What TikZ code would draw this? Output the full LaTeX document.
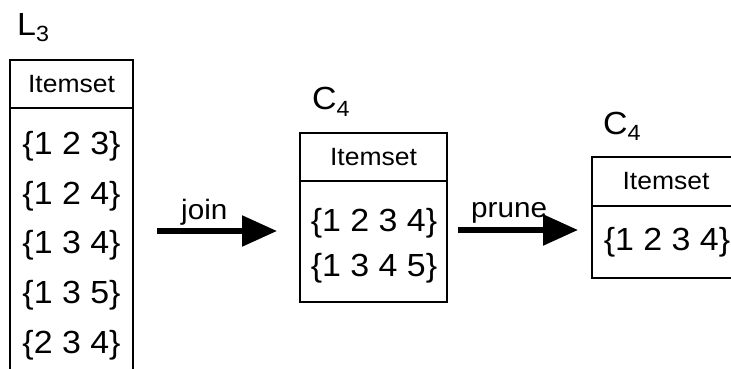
\documentclass[tikz,border=0pt]{standalone}
\usepackage{fontspec}
\setmainfont{Liberation Sans}[FakeStretch=1.06]
\usetikzlibrary{arrows.meta}
\newcommand{\setname}[2]{#1\raisebox{-6pt}{\fontsize{22}{24}\selectfont #2}}
\begin{document}
\begin{tikzpicture}[x=1pt,y=-1pt,
  frame/.style={draw, line width=1.8pt, inner sep=0pt},
  head/.style={font=\fontsize{25}{28}\selectfont},
  entry/.style={inner sep=0pt, font=\fontsize{32}{35}\selectfont},
  title/.style={inner sep=0pt, anchor=base west, font=\fontsize{32}{35}\selectfont},
  oplabel/.style={inner sep=0pt, anchor=base west, font=\fontsize{28}{31}\selectfont},
  flow/.style={line width=5.5pt, -{Triangle[length=35pt,width=30pt]}}]
\useasboundingbox (0,0) rectangle (731,369);
\clip (0,0) rectangle (731,369);

% L3: frequent 3-itemsets (column runs past the lower edge)
\node[title] (l3t) at (17,36) {\setname{L}{3}};
\node[frame, minimum width=123pt, minimum height=48pt] (l3h) at (71.5,84) {};
\node[head] (l3hl) at (l3h.center) {Itemset};
\node[frame, minimum width=123pt, minimum height=292pt] (l3b) at (71.5,254) {};
\node[entry] (l3r1) at (71.5,146) {\{1 2 3\}};
\node[entry] (l3r2) at (71.5,196) {\{1 2 4\}};
\node[entry] (l3r3) at (71.5,245) {\{1 3 4\}};
\node[entry] (l3r4) at (71.5,295) {\{1 3 5\}};
\node[entry] (l3r5) at (71.5,345) {\{2 3 4\}};

% join step
\coordinate (j0) at (157,231);
\coordinate (j1) at (277,231);
\draw[flow] (j0) -- (j1);
\node[oplabel] (jl) at (181,219) {join};

% C4 after joining
\node[title] (c4t) at (312,110) {\setname{C}{4}};
\node[frame, minimum width=147pt, minimum height=48pt] (c4h) at (373.5,157) {};
\node[head] (c4hl) at (c4h.center) {Itemset};
\node[frame, minimum width=147pt, minimum height=121pt] (c4b) at (373.5,241.5) {};
\node[entry] (c4r1) at (374,223) {\{1 2 3 4\}};
\node[entry] (c4r2) at (374,268) {\{1 3 4 5\}};

% prune step
\coordinate (p0) at (458,230);
\coordinate (p1) at (578,230);
\draw[flow] (p0) -- (p1);
\node[oplabel] (pl) at (471,217) {prune};

% C4 after pruning (right edge lies outside the frame)
\node[title] (c4pt) at (603,134) {\setname{C}{4}};
\node[frame, minimum width=148pt, minimum height=49pt] (c4ph) at (666,181.5) {};
\node[head] (c4phl) at (c4ph.center) {Itemset};
\node[frame, minimum width=148pt, minimum height=72pt] (c4pb) at (666,242) {};
\node[entry] (c4pr1) at (667,242) {\{1 2 3 4\}};
\end{tikzpicture}
\end{document}
